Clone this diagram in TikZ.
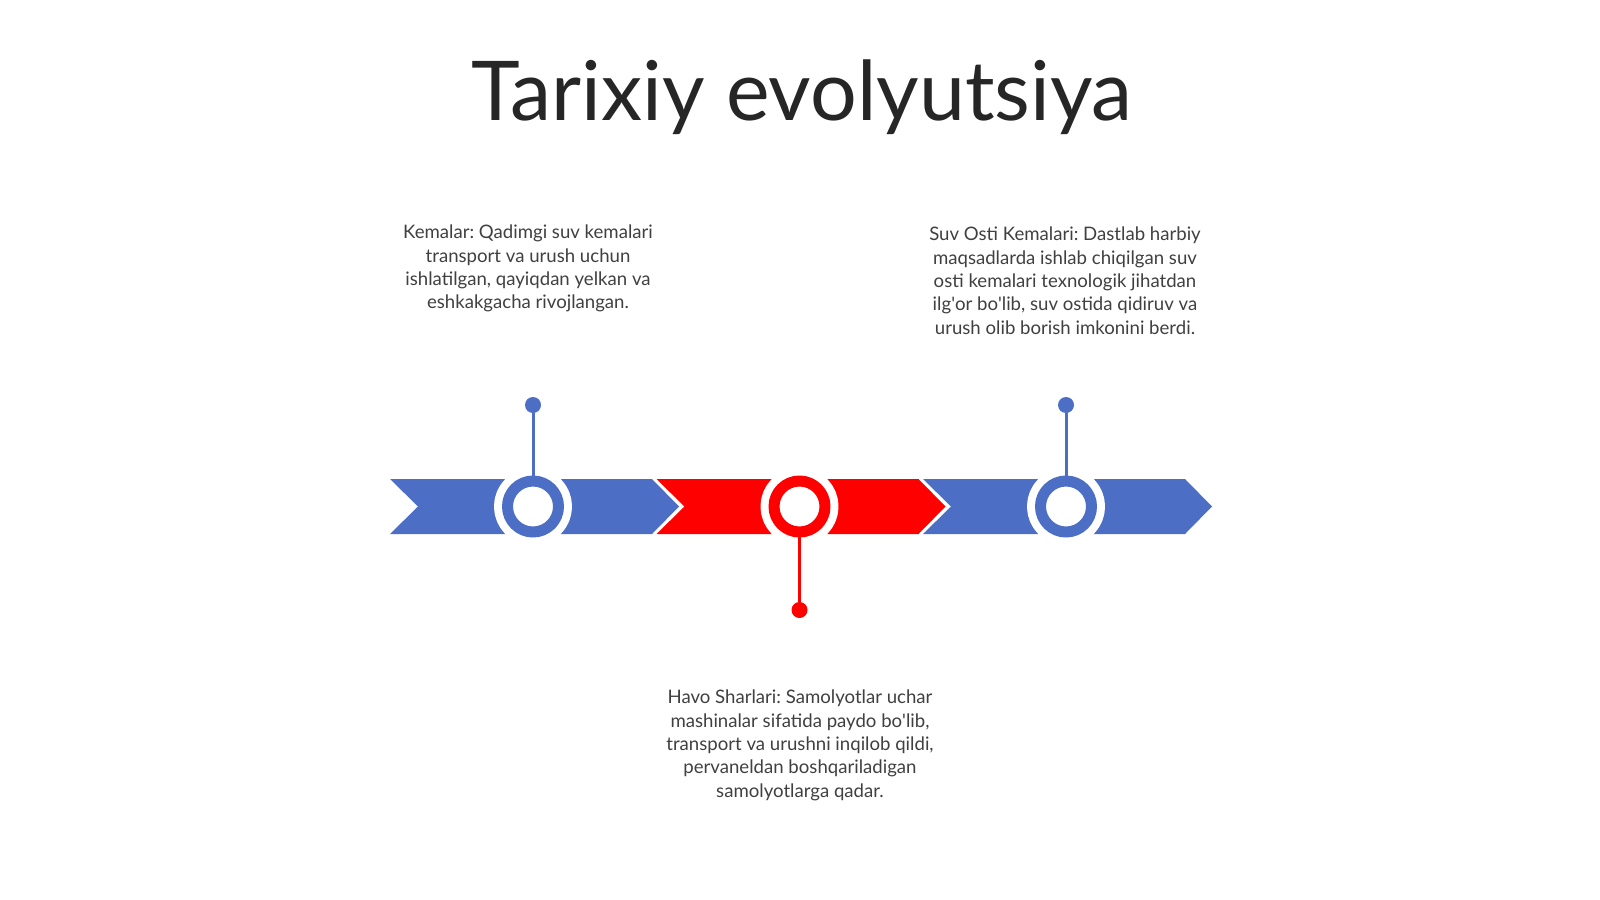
\documentclass[tikz,border=0pt]{standalone}
\usepackage{fontspec}
\setmainfont{Lato}
\definecolor{tlblue}{HTML}{4C6EC5}
\definecolor{tlred}{HTML}{FF0000}
\definecolor{tltext}{HTML}{404040}
\definecolor{tltitle}{HTML}{262626}
\newcommand{\ap}{\textquotesingle}
\frenchspacing
\begin{document}
\begin{tikzpicture}[x=1pt, y=-1pt, line join=round, line cap=round,
	hubring/.style={circle, draw=#1, line width=11pt, fill=white, minimum size=51pt, inner sep=0pt,
		preaction={draw=white, line width=27pt}},
	knob/.style={circle, fill=#1, minimum size=16pt, inner sep=0pt},
	stemline/.style={draw=#1, line width=3pt},
	notetext/.style={align=center, inner sep=0pt, text=tltext, anchor=north,
		font=\fontsize{18.6}{23.3}\selectfont}]
	\useasboundingbox[fill=white] (0,0) rectangle (1600,899);
	\def\chw{262} \def\tip{27} \def\notch{28} % chevron
	\def\ymid{506.5}
	% title
	\node[font=\fontsize{82.5}{94}\selectfont, text=tltitle, anchor=base] (title) at (802,120) {Tarixiy evolyutsiya};
	% chevrons
	\foreach \i/\col in {0/tlblue,1/tlred,2/tlblue}{
		\pgfmathsetmacro\xa{390+266.5*\i}
		\fill[\col] (\xa,479) -- ++(\chw,0) -- ++(\tip,27.5) -- ++(-\tip,27.5) -- ++(-\chw,0) -- ++(\notch,-27.5) -- cycle;
	}
	% rings and knobs
	\node[hubring=tlblue] (r1) at (533,\ymid) {};
	\node[hubring=tlred] (r2) at (799.5,\ymid) {};
	\node[hubring=tlblue] (r3) at (1066,\ymid) {};
	\node[knob=tlblue] (k1) at (533,405) {};
	\node[knob=tlred] (k2) at (799.5,610) {};
	\node[knob=tlblue] (k3) at (1066,405) {};
	\draw[stemline=tlblue] (k1) -- (r1);
	\draw[stemline=tlred] (k2) -- (r2);
	\draw[stemline=tlblue] (k3) -- (r3);
	% notes
	\node[notetext] (n1) at (528,225) {Kemalar: Qadimgi suv kemalari\\transport va urush uchun\\ishlatilgan, qayiqdan yelkan va\\eshkakgacha rivojlangan.};
	\node[notetext] (n2) at (1065,227) {Suv Osti Kemalari: Dastlab harbiy\\maqsadlarda ishlab chiqilgan suv\\osti kemalari texnologik jihatdan\\ilg\ap or bo\ap lib, suv ostida qidiruv va\\urush olib borish imkonini berdi.};
	\node[notetext] (n3) at (800,690) {Havo Sharlari: Samolyotlar uchar\\mashinalar sifatida paydo bo\ap lib,\\transport va urushni inqilob qildi,\\pervaneldan boshqariladigan\\samolyotlarga qadar.};
\end{tikzpicture}
\end{document}
